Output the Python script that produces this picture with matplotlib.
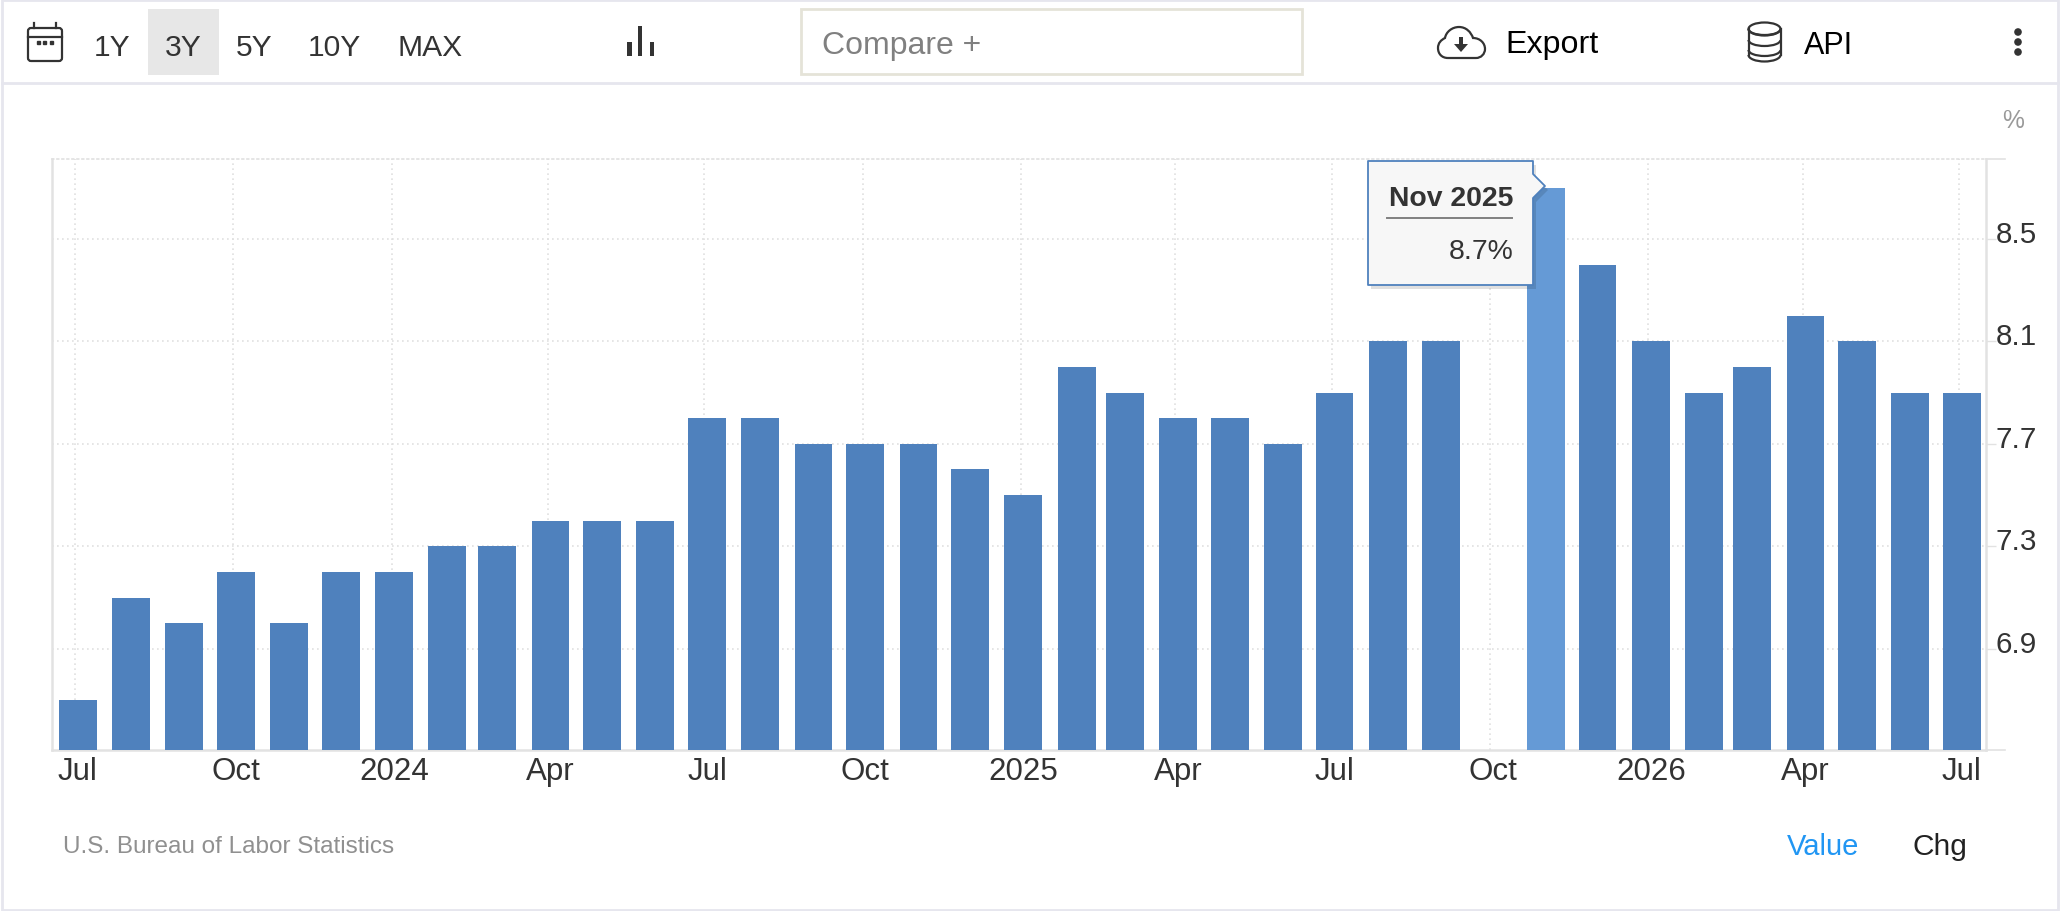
import matplotlib as mpl
mpl.use('Agg')
import matplotlib.pyplot as plt
import matplotlib.patches as patches
from matplotlib.path import Path
from matplotlib.transforms import ScaledTranslation
import numpy as np
import pandas as pd

plt.rcParams['font.family'] = ['Liberation Sans', 'DejaVu Sans']

# monthly rate, Jul 2023 to Jul 2026, no reading for Oct 2025
months = pd.date_range('2023-07-01', '2026-07-01', freq='MS')
rates = [6.7, 7.1, 7.0, 7.2, 7.0, 7.2,
         7.2, 7.3, 7.3, 7.4, 7.4, 7.4, 7.8, 7.8, 7.7, 7.7, 7.7, 7.6,
         7.5, 8.0, 7.9, 7.8, 7.8, 7.7, 7.9, 8.1, 8.1, np.nan, 8.7, 8.4,
         8.1, 7.9, 8.0, 8.2, 8.1, 7.9, 7.9]
highlight = pd.Timestamp('2025-11-01')

tick_dates = pd.date_range('2023-07-01', '2026-07-01', freq='3MS')
tick_labels = ['Jul', 'Oct', '2024', 'Apr', 'Jul', 'Oct', '2025', 'Apr', 'Jul',
               'Oct', '2026', 'Apr', 'Jul']
y_ticks = [6.9, 7.3, 7.7, 8.1, 8.5]
ranges = ['1Y', '3Y', '5Y', '10Y', 'MAX']
range_x = [94, 165, 236, 308, 397]

BLUE = '#4f81bd'
BLUE_HI = '#659ad6'
GRID = '#e0e0e0'
AXIS = '#e2e2e2'
BORDER = '#e6e6ee'
DARK = '#333333'
DOTS = (0, (1, 2))

fig = plt.figure(figsize=(20.6, 9.12), dpi=100, facecolor='white')

# plot area
ax = fig.add_axes([52 / 2060, (912 - 751) / 912, 1934 / 2060, 591 / 912])
colors = [BLUE_HI if m == highlight else BLUE for m in months]
ax.bar(months, rates, width=22, color=colors, zorder=3)
ax.set_xlim(pd.Timestamp('2023-06-16'), pd.Timestamp('2026-07-15'))
ax.set_ylim(6.505, 8.812)
ax.set_xticks(tick_dates)
ax.set_xticklabels(tick_labels, fontsize=22.5, color=DARK)
ax.set_yticks(y_ticks)
ax.yaxis.tick_right()
ax.tick_params(axis='x', length=0, pad=4)
ax.tick_params(axis='y', length=7, width=1, color=AXIS, pad=0, labelsize=21.3, labelcolor=DARK)
ax.grid(True, axis='y', color=GRID, linestyle=DOTS, linewidth=1.2, zorder=0)
# vertical grid sits a little left of the bar centres in the original
for d in tick_dates:
    ax.axvline(d - pd.Timedelta(days=1.5), color=GRID, linestyle=DOTS, linewidth=1.2, zorder=0)
ax.set_axisbelow(True)
for side in ax.spines:
    ax.spines[side].set_color(AXIS)
    ax.spines[side].set_linewidth(1.8)
ax.spines['top'].set_linestyle(DOTS)
ax.spines['top'].set_color(GRID)
ax.spines['top'].set_linewidth(1.2)

# y labels sit above their grid lines
lift = ScaledTranslation(0, 8 / 100, fig.dpi_scale_trans)
for label in ax.get_yticklabels():
    label.set_transform(label.get_transform() + lift)

# page chrome and tooltip in pixel coordinates
ui = fig.add_axes([0, 0, 1, 1], facecolor='none')
ui.set_xlim(0, 2060)
ui.set_ylim(912, 0)
ui.axis('off')

# frame
ui.add_patch(patches.Rectangle((1.5, 0.5), 2056.5, 910.5, fill=False, edgecolor=BORDER, linewidth=2))
ui.plot([2, 2058], [83.5, 83.5], color=BORDER, linewidth=2)

# thin lines running past the right axis
ui.plot([1986, 2005], [751, 751], color=AXIS, linewidth=1.2)
ui.plot([1986, 2005], [160, 160], color=AXIS, linewidth=1.2)

# calendar icon
ui.add_patch(patches.FancyBboxPatch((28, 29), 34, 33, boxstyle='round,pad=0,rounding_size=3',
                                    fill=False, edgecolor=DARK, linewidth=1.6))
ui.plot([28, 62], [38, 38], color=DARK, linewidth=1.6)
ui.plot([34, 34], [24, 29], color=DARK, linewidth=1.6)
ui.plot([56, 56], [24, 29], color=DARK, linewidth=1.6)
for dot_x in [37, 43, 50]:
    ui.add_patch(patches.Rectangle((dot_x, 42), 3, 3, color=DARK))

# range buttons
ui.add_patch(patches.Rectangle((148, 10), 71, 66, color='#e7e7e7', linewidth=0))
for label, x in zip(ranges, range_x):
    ui.text(x, 56, label, fontsize=21.6, color=DARK, va='baseline', ha='left')

# chart type icon
for x0, x1, top in [(627, 632, 43), (638, 642, 27), (650, 654, 43)]:
    ui.add_patch(patches.Rectangle((x0, top), x1 - x0, 57 - top, color=DARK, linewidth=0))

# compare box
ui.add_patch(patches.Rectangle((800.5, 9.5), 501, 65, fill=False, edgecolor='#e5e3d8', linewidth=2))
ui.text(822, 54, 'Compare +', fontsize=23, color='#808080', va='baseline', ha='left')

# cloud icon
cloud = Path(
    [(1448, 59), (1442, 59), (1438, 55), (1438, 49), (1438, 44), (1441, 41), (1445, 39),
     (1446, 33), (1452, 28), (1459, 28), (1466, 28), (1471, 33), (1473, 39),
     (1480, 39), (1485, 44), (1485, 50), (1485, 55), (1481, 59), (1476, 59), (1448, 59)],
    [Path.MOVETO] + [Path.CURVE4] * 18 + [Path.LINETO])
ui.add_patch(patches.PathPatch(cloud, fill=False, edgecolor=DARK, linewidth=1.6))
ui.add_patch(patches.Polygon([(1459, 38), (1463, 38), (1463, 45), (1468, 45), (1461, 53), (1454, 45), (1459, 45)],
                             color=DARK, linewidth=0))
ui.text(1505, 53, 'Export', fontsize=23.2, color='black', va='baseline', ha='left')

# database icon
for cy in [30, 41, 51]:
    ui.add_patch(patches.Arc((1764.5, cy), 32, 12, theta1=0, theta2=180, edgecolor=DARK, linewidth=1.6))
ui.add_patch(patches.Ellipse((1764.5, 30), 32, 13, fill=False, edgecolor=DARK, linewidth=1.6))
ui.plot([1748.5, 1748.5], [30, 56], color=DARK, linewidth=1.6)
ui.plot([1780.5, 1780.5], [30, 56], color=DARK, linewidth=1.6)
ui.add_patch(patches.Arc((1764.5, 56), 32, 13, theta1=0, theta2=180, edgecolor=DARK, linewidth=1.6))
ui.text(1804, 54, 'API', fontsize=22, color='black', va='baseline', ha='left')

# menu dots
for dot_y in [33, 43, 53]:
    ui.add_patch(patches.Circle((2018, dot_y), 3.8, color=DARK, linewidth=0))

ui.text(2002, 128, '%', fontsize=17.7, color='#999999', va='baseline', ha='left')
ui.text(63, 853, 'U.S. Bureau of Labor Statistics', fontsize=17.5, color='#909090', va='baseline', ha='left')
ui.text(1787, 855, 'Value', fontsize=21, color='#2196f3', va='baseline', ha='left')
ui.text(1913, 855, 'Chg', fontsize=21.5, color='#222222', va='baseline', ha='left')

# tooltip
tip = [(1368, 162), (1533, 162), (1533, 175), (1545, 187), (1533, 199), (1533, 286), (1368, 286)]
shadow = [(x + 3, y + 4) for x, y in tip]
ui.add_patch(patches.Polygon(shadow, closed=True, color='#000000', alpha=0.12, linewidth=0, zorder=5))
ui.add_patch(patches.Polygon(tip, closed=True, facecolor='#f7f7f7', edgecolor=BLUE, linewidth=1.3,
                             joinstyle='round', zorder=6))
ui.text(1513, 206, 'Nov 2025', fontsize=20.4, fontweight='bold', color=DARK, va='baseline', ha='right', zorder=7)
ui.plot([1387, 1512], [219, 219], color='#808080', linewidth=1.4, zorder=7)
ui.text(1514, 259, '8.7%', fontsize=20.4, color=DARK, va='baseline', ha='right', zorder=7)

fig.savefig('out.png', dpi=100)
